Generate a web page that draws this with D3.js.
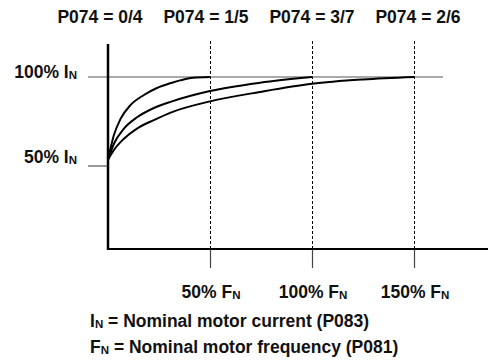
<!DOCTYPE html>
<html>
<head>
<meta charset="utf-8">
<script src="https://cdn.jsdelivr.net/npm/d3@7"></script>
<style>
  body { margin: 0; background: #fff; }
  svg { display: block; }
  text { font-family: "Liberation Sans", Arial, sans-serif; font-weight: bold; fill: #111; }
</style>
</head>
<body>
<svg width="488" height="364"></svg>
<script>
// column titles, evenly spaced across the top
var titles = ["P074 = 0/4", "P074 = 1/5", "P074 = 3/7", "P074 = 2/6"];

// x ticks, % of nominal frequency
var freqTicks = [50, 100, 150];
// y ticks, % of nominal current
var currTicks = [100, 50];

// curves: [% F_N, % I_N]
var curve04 = [[0, 53.5], [2.9, 67.4], [6.2, 76.6], [11.1, 84.3], [17.6, 89.9], [24, 93.8], [31.4, 96.8], [35.3, 98.1], [41.7, 99.6], [50, 100]];
var curve15 = [[0, 53.5], [2.9, 62.5], [7.8, 71], [14.4, 77.5], [22.5, 82.6], [31.4, 86.3], [50, 92.1], [74.5, 96.8], [100, 100]];
var curve37 = [[0, 53.5], [2.9, 59], [7.8, 65.3], [14.2, 71], [22.5, 75.8], [31.4, 80.3], [50, 86.3], [74.5, 91.6], [100, 96.2], [125, 98.6], [150, 100]];
var curves = [curve04, curve15, curve37];

var notes = [["I", "N", " = Nominal motor current (P083)"], ["F", "N", " = Nominal motor frequency (P081)"]];

var svg = d3.select("svg"),
  width = +svg.attr("width"),
  height = +svg.attr("height");

var fs = 17.5, subFs = 11.5;

var x = d3.scaleLinear().domain([0, 150]).range([108, 414]);
var y = d3.scaleLinear().domain([50, 100]).range([166, 77]);
var axisY = 249;

// titles
svg.append("g").selectAll("text")
  .data(titles)
  .enter()
  .append("text")
  .attr("x", function (d, i) { return 100 + i * 106; })
  .attr("y", 23)
  .attr("text-anchor", "middle")
  .attr("font-size", fs)
  .text(function (d) { return d; });

// dashed verticals
svg.append("g").selectAll("line")
  .data(freqTicks)
  .enter()
  .append("line")
  .attr("x1", function (d) { return x(d) + 0.5; })
  .attr("x2", function (d) { return x(d) + 0.5; })
  .attr("y1", 41)
  .attr("y2", axisY)
  .attr("stroke", "#000")
  .attr("stroke-width", 1)
  .attr("stroke-dasharray", "3,2");

// 100% reference line and 50% tick
svg.append("line")
  .attr("x1", 88).attr("x2", 443)
  .attr("y1", y(100)).attr("y2", y(100))
  .attr("stroke", "#555").attr("stroke-width", 1.2);
svg.append("line")
  .attr("x1", 88).attr("x2", x(0))
  .attr("y1", y(50)).attr("y2", y(50))
  .attr("stroke", "#555").attr("stroke-width", 1.2);

// bottom ticks
var xAxis = svg.append("g")
  .attr("transform", "translate(0," + axisY + ")")
  .call(d3.axisBottom(x).tickValues(freqTicks).tickSize(19).tickFormat(""));
xAxis.select(".domain").remove();
xAxis.selectAll("line").attr("stroke", "#444").attr("stroke-width", 1.2);

// axes lines
svg.append("line")
  .attr("x1", x(0)).attr("x2", x(0))
  .attr("y1", 44).attr("y2", axisY + 1)
  .attr("stroke", "#000").attr("stroke-width", 2.5);
svg.append("line")
  .attr("x1", x(0) - 1).attr("x2", width)
  .attr("y1", axisY).attr("y2", axisY)
  .attr("stroke", "#000").attr("stroke-width", 2.2);

// curves
var line = d3.line()
  .x(function (d) { return x(d[0]); })
  .y(function (d) { return y(d[1]); })
  .curve(d3.curveMonotoneX);

svg.append("g").selectAll("path")
  .data(curves)
  .enter()
  .append("path")
  .attr("d", line)
  .attr("fill", "none")
  .attr("stroke", "#000")
  .attr("stroke-width", 2);

// label with subscript N
function subLabel(sel, main, sub, rest) {
  sel.append("tspan").text(main);
  sel.append("tspan").attr("font-size", subFs).attr("dy", 1).text(sub);
  if (rest) sel.append("tspan").attr("dy", -1).text(rest);
}

// y labels
var yLab = svg.append("g").selectAll("text")
  .data(currTicks)
  .enter()
  .append("text")
  .attr("x", 77)
  .attr("y", function (d) { return d == 100 ? y(d) + 1 : y(d) - 3; })
  .attr("text-anchor", "end")
  .attr("font-size", fs);
yLab.each(function (d) { subLabel(d3.select(this), d + "% I", "N"); });

// x labels
var xLab = svg.append("g").selectAll("text")
  .data(freqTicks)
  .enter()
  .append("text")
  .attr("x", function (d) { return x(d) + 1; })
  .attr("y", 298)
  .attr("text-anchor", "middle")
  .attr("font-size", fs);
xLab.each(function (d) { subLabel(d3.select(this), d + "% F", "N"); });

// footnotes
var noteText = svg.append("g").selectAll("text")
  .data(notes)
  .enter()
  .append("text")
  .attr("x", 90)
  .attr("y", function (d, i) { return 327 + i * 26; })
  .attr("font-size", fs);
noteText.each(function (d) { subLabel(d3.select(this), d[0], d[1], d[2]); });
</script>
</body>
</html>
